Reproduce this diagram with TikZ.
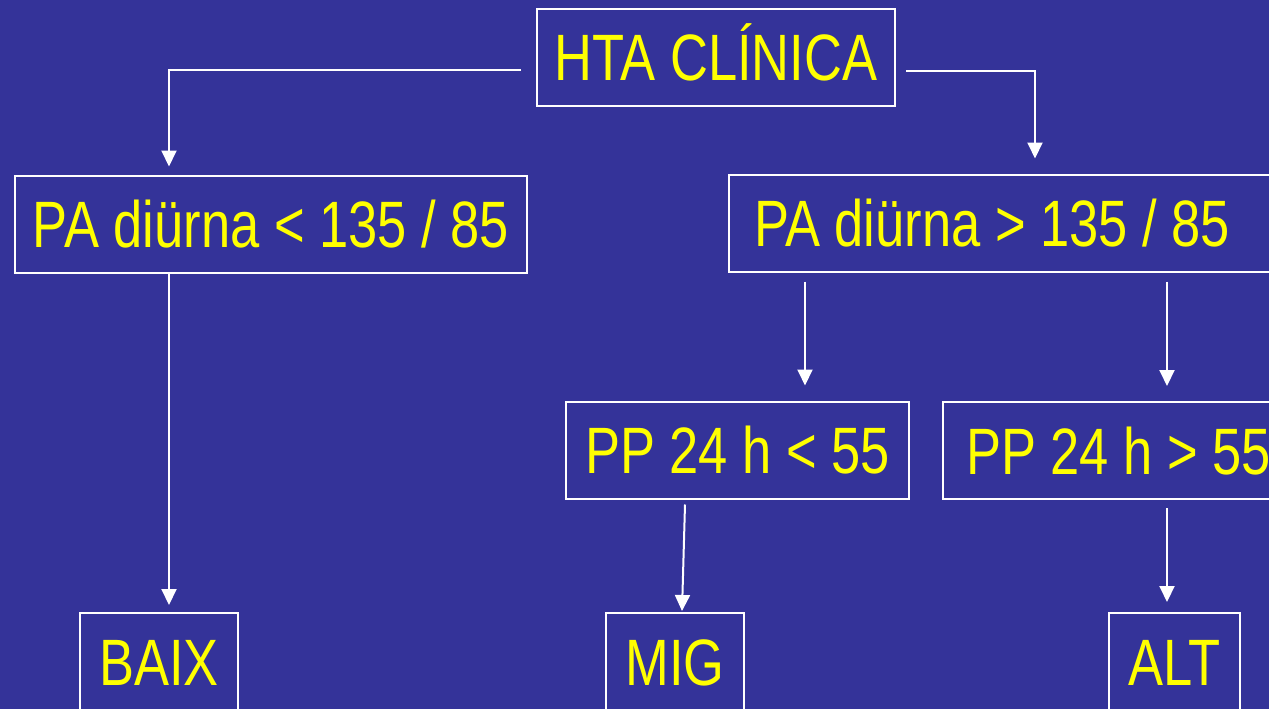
\documentclass[tikz,border=0pt]{standalone}
\usepackage{fontspec}
\setmainfont{Liberation Sans}[FakeStretch=0.8]
\usetikzlibrary{arrows.meta}
\definecolor{bgblue}{HTML}{343399}
\definecolor{txtyellow}{HTML}{FFFF00}
\begin{document}
\begin{tikzpicture}[x=1pt,y=-1pt,
  boxst/.style={draw=white, line width=2pt, text=txtyellow, minimum height=97pt,
    text height=47pt, text depth=0pt, inner sep=0pt,
    font=\fontsize{65.6}{70}\selectfont},
  arr/.style={draw=white, line width=2pt, -{Triangle[width=15pt,length=16pt]}}]
\useasboundingbox (0,0) rectangle (1269,709);
\fill[bgblue] (0,0) rectangle (1269,709);
\clip (0,0) rectangle (1269,709);
\node[boxst, minimum width=358pt] (hta) at (716,57.5) {HTA CLÍNICA};
\node[boxst, minimum width=512pt] (pal) at (271,224) {PA diürna < 135 / 85};
\node[boxst, inner xsep=25pt, anchor=west] (pag) at (728,223) {\makebox[540pt][l]{PA diürna > 135 / 85}};
\node[boxst, minimum width=343pt] (ppl) at (737.5,450) {PP 24 h < 55};
\node[boxst, inner xsep=23pt, anchor=west] (ppg) at (942,450.5) {\makebox[340pt][l]{PP 24 h > 55}};
\node[boxst, minimum width=158pt] (baix) at (159,661.5) {BAIX};
\node[boxst, minimum width=138pt] (mig) at (675,661.5) {MIG};
\node[boxst, minimum width=131pt] (alt) at (1174.5,661.5) {ALT};
% connectors
\draw[arr] ([xshift=-15pt,yshift=-12.5pt]hta.west) -| ([xshift=155pt,yshift=8pt]pal.north west);
\draw[arr] ([xshift=10pt,yshift=-13.5pt]hta.east) -| ([xshift=307pt,yshift=15pt]pag.north west);
\draw[arr] ([xshift=155pt]pal.south west) -- ([xshift=90pt,yshift=7pt]baix.north west);
\draw[arr] ([xshift=77pt,yshift=-9pt]pag.south west) -- ([xshift=240pt,yshift=15pt]ppl.north west);
\draw[arr] ([xshift=439pt,yshift=-9pt]pag.south west) -- ([xshift=225pt,yshift=15pt]ppg.north west);
\draw[arr] ([xshift=120pt,yshift=-5pt]ppl.south west) -- ([xshift=77pt,yshift=1pt]mig.north west);
\draw[arr] ([xshift=225pt,yshift=-8pt]ppg.south west) -- ([xshift=59pt,yshift=10pt]alt.north west);
\end{tikzpicture}
\end{document}
